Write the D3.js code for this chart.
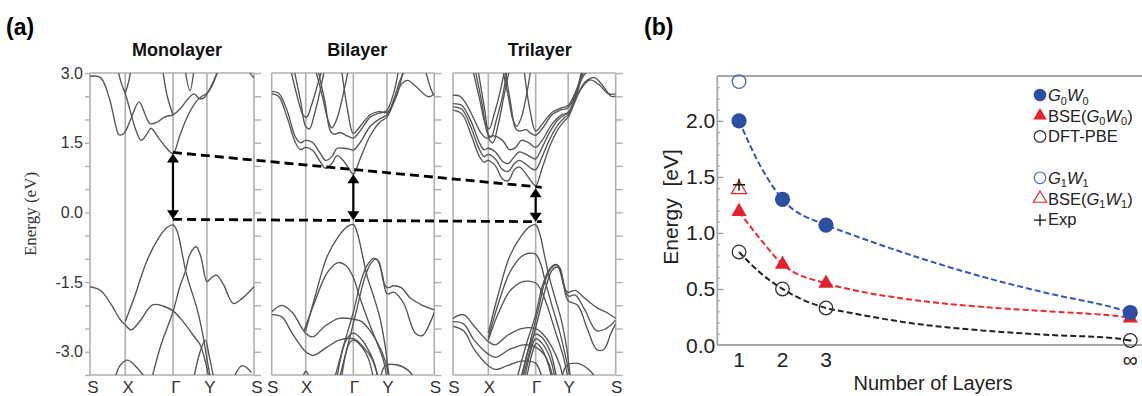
<!DOCTYPE html>
<html>
<head>
<meta charset="utf-8">
<script src="https://cdn.jsdelivr.net/npm/d3@7"></script>
<style>
  body { margin: 0; background: #fff; }
  svg { display: block; font-family: Arial, "Liberation Sans", sans-serif; }
</style>
</head>
<body>
<svg id="fig" width="1142" height="396"></svg>
<script>
// ---------- panel (a): band structures, path coordinate S=0 X=1 Γ=2 Y=3 S=4, energy in eV ----------
const kLabels = ['S', 'X', 'Γ', 'Y', 'S'];
const energyTicks = [-3.0, -1.5, 0.0, 1.5, 3.0];

const monoBands = [
  [[0,2.93],[0.3,2.9],[0.55,2.45],[0.72,1.9],[0.82,1.67],[0.92,1.68],[1,1.74],[1.12,2.02],[1.29,2.38],[1.42,2.1],[1.52,1.91],[1.65,1.93],[1.82,2.05],[2,2.1],[2.2,2.22],[2.45,2.45],[2.62,2.55],[2.78,2.45],[2.92,2.47],[3,2.55],[3.15,2.85],[3.25,3.1]],
  [[0.78,3.1],[0.9,2.75],[1,2.56],[1.1,2.2],[1.22,1.78],[1.33,1.55],[1.45,1.68],[1.54,1.81],[1.7,1.6],[1.85,1.4],[2,1.27],[2.2,1.65],[2.45,2.1],[2.7,2.4],[2.85,2.5],[3,2.56],[3.12,2.75],[3.25,3.1]],
  [[1,2.56],[1.08,2.85],[1.12,3.1]],
  [[1.78,3.1],[1.88,2.5],[2,2.1]],
  [[2.35,3.1],[2.5,2.62],[2.62,3.1]],
  [[3.85,3.1],[3.95,2.95],[4,2.9]],
  [[0,-1.6],[0.3,-1.68],[0.6,-1.98],[0.85,-2.3],[1,-2.42],[1.12,-2.53],[1.3,-2.35],[1.57,-1.99],[1.8,-2.02],[2,-2.12],[2.3,-2.35],[2.6,-2.65],[2.8,-2.85],[2.95,-3.2],[3.05,-3.6]],
  [[1,-2.35],[1.2,-1.8],[1.45,-1.05],[1.7,-0.55],[1.88,-0.32],[2,-0.27],[2.12,-0.4],[2.28,-0.92],[2.38,-1.28],[2.55,-1.7],[2.7,-2.05],[2.87,-2.6],[3,-3.15],[3.08,-3.6]],
  [[1.55,-3.6],[1.75,-2.85],[2,-2.14],[2.2,-1.6],[2.36,-1.28],[2.5,-0.9],[2.68,-0.74],[2.82,-0.95],[3,-1.49],[3.08,-1.42],[3.2,-1.35],[3.35,-1.55],[3.56,-1.96],[3.75,-1.85],[4,-1.6]],
  [[0.7,-3.6],[0.85,-3.3],[1.05,-3.18],[1.25,-3.35],[1.45,-3.6]],
  [[2.6,-3.6],[2.8,-3.0],[2.95,-2.75],[3.05,-3.1],[3.15,-3.6]],
  [[3.55,-3.6],[3.75,-3.3],[3.95,-3.45]]
];

const biBands = [
  [[0,2.55],[0.2,2.5],[0.45,2.05],[0.7,1.5],[0.85,1.35],[1,1.4],[1.15,1.33],[1.3,1.1],[1.42,0.95],[1.55,1.05],[1.66,1.22],[1.8,1.1],[1.92,0.92],[2,0.82],[2.2,1.15],[2.5,1.65],[2.8,1.95],[3,2.05],[3.16,2.41],[3.3,2.75],[3.44,2.84],[3.6,2.72],[3.87,2.49],[4,2.55]],
  [[0,2.6],[0.2,2.57],[0.45,2.2],[0.7,1.62],[0.85,1.5],[1,1.55],[1.15,1.5],[1.3,1.28],[1.42,1.12],[1.55,1.2],[1.66,1.38],[1.8,1.38],[1.92,1.36],[2,1.34],[2.2,1.5],[2.5,1.85],[2.8,2.02],[3,2.1],[3.15,2.45],[3.28,2.85],[3.4,3.1]],
  [[0.55,3.1],[0.75,2.5],[0.92,2.1],[1.02,2.05],[1.12,2.3],[1.25,2.75],[1.35,3.1]],
  [[0.65,3.1],[0.85,2.4],[1.0,1.85],[1.08,1.8],[1.18,2.1],[1.3,2.6],[1.4,3.1]],
  [[1.2,3.1],[1.35,2.5],[1.48,1.95],[1.55,1.82],[1.65,2.0],[1.8,2.6],[1.9,3.1]],
  [[1.25,3.1],[1.4,2.4],[1.52,1.75],[1.6,1.68],[1.72,1.72],[1.85,1.66],[2,1.6],[2.2,1.75],[2.5,2.05],[2.7,2.12],[2.85,2.15],[3,2.2],[3.15,2.6],[3.25,3.1]],
  [[1.75,3.1],[1.88,2.2],[2,1.7],[2.2,1.85],[2.5,2.1],[2.75,2.17],[3,2.15],[3.2,2.5],[3.35,3.1]],
  [[3.8,3.1],[3.95,2.6],[4,2.52]],
  [[1,-2.55],[1.2,-1.8],[1.45,-0.95],[1.7,-0.5],[1.88,-0.3],[2,-0.26],[2.12,-0.45],[2.28,-0.95],[2.42,-1.4],[2.6,-1.8],[2.8,-2.3],[2.95,-2.9],[3.05,-3.6]],
  [[0.95,-2.55],[1.2,-1.9],[1.45,-1.3],[1.68,-1.08],[1.85,-1.15],[2,-1.4],[2.2,-1.85],[2.45,-2.35],[2.7,-2.8],[2.9,-3.2],[3.0,-3.6]],
  [[0,-2.14],[0.3,-2.0],[0.6,-2.15],[1,-2.6],[1.15,-2.68],[1.4,-2.45],[1.7,-2.28],[2,-2.3],[2.25,-2.35],[2.5,-2.55],[2.75,-2.85],[2.95,-3.2],[3.05,-3.6]],
  [[0,-2.2],[0.3,-2.25],[0.6,-2.6],[1,-3.0],[1.15,-3.08],[1.45,-2.9],[1.7,-2.75],[2,-2.72],[2.3,-2.9],[2.55,-3.15],[2.75,-3.6]],
  [[1.6,-3.6],[1.8,-2.85],[2,-2.15],[2.2,-1.55],[2.4,-1.15],[2.6,-0.99],[2.75,-1.05],[2.9,-1.5],[3,-1.62],[3.15,-1.58],[3.3,-1.62],[3.5,-1.85],[3.75,-2.0],[4,-2.1]],
  [[1.7,-3.6],[1.9,-2.8],[2.1,-2.1],[2.3,-1.5],[2.5,-1.12],[2.68,-1.0],[2.85,-1.3],[3,-1.75],[3.15,-1.72],[3.35,-1.95],[3.6,-2.6],[3.75,-2.65],[3.9,-2.4],[4,-2.15]],
  [[1.65,-3.6],[1.85,-2.75],[2,-2.6],[2.2,-2.7],[2.4,-2.9],[2.6,-3.2],[2.75,-3.6]],
  [[1.75,-3.6],[1.9,-2.85],[2,-2.75],[2.2,-2.85],[2.45,-3.15],[2.6,-3.6]],
  [[0.9,-3.6],[1.0,-3.42],[1.1,-3.6]],
  [[2.8,-3.6],[2.95,-3.3],[3.2,-3.28],[3.45,-3.4],[3.6,-3.6]]
];

const triBands = [
  [[0,2.2],[0.25,2.12],[0.5,1.7],[0.75,1.2],[0.88,1.08],[1,1.12],[1.15,1.0],[1.3,0.72],[1.42,0.68],[1.55,0.92],[1.65,0.98],[1.78,0.85],[1.92,0.65],[2,0.57],[2.2,0.95],[2.45,1.45],[2.7,1.8],[2.9,1.98],[3,2.05],[3.15,2.4],[3.35,2.8],[3.55,2.9],[3.75,2.7],[3.9,2.5],[4,2.5]],
  [[0,2.27],[0.25,2.22],[0.5,1.85],[0.75,1.35],[0.88,1.2],[1,1.25],[1.15,1.15],[1.3,0.92],[1.42,0.88],[1.55,1.05],[1.65,1.12],[1.78,1.05],[1.9,0.95],[2,0.92],[2.2,1.2],[2.45,1.6],[2.7,1.9],[2.9,2.05],[3,2.1],[3.15,2.5],[3.3,2.9],[3.45,3.1]],
  [[0,2.34],[0.25,2.3],[0.5,1.98],[0.75,1.5],[0.88,1.35],[1,1.38],[1.15,1.3],[1.3,1.1],[1.42,1.05],[1.55,1.2],[1.65,1.3],[1.8,1.25],[1.92,1.18],[2,1.15],[2.2,1.4],[2.45,1.75],[2.7,2.0],[2.9,2.1],[3,2.15],[3.2,2.6],[3.3,3.1]],
  [[0,2.52],[0.2,2.5],[0.4,2.3],[0.6,2.0],[0.8,1.7],[0.95,1.6],[1.1,1.65],[1.3,1.55],[1.45,1.35],[1.58,1.4],[1.7,1.55],[1.85,1.5],[2,1.4],[2.2,1.55],[2.5,1.9],[2.8,2.1],[3,2.15],[3.2,2.55],[3.45,2.85],[3.65,2.75],[3.85,2.55],[4,2.55]],
  [[0.55,3.1],[0.75,2.45],[0.92,1.9],[1.02,1.8],[1.12,2.1],[1.25,2.6],[1.35,3.1]],
  [[0.62,3.1],[0.82,2.35],[0.98,1.7],[1.06,1.62],[1.16,1.95],[1.3,2.5],[1.4,3.1]],
  [[0.7,3.1],[0.9,2.2],[1.03,1.55],[1.1,1.5],[1.2,1.85],[1.33,2.5],[1.45,3.1]],
  [[1.3,3.1],[1.42,2.5],[1.52,2.0],[1.6,1.85],[1.7,2.05],[1.82,2.6],[1.9,3.1]],
  [[1.35,3.1],[1.48,2.3],[1.57,1.82],[1.65,1.75],[1.8,1.78],[1.9,1.7],[2,1.66],[2.2,1.8],[2.5,2.1],[2.75,2.2],[3,2.25],[3.15,2.55],[3.3,3.1]],
  [[1.75,3.1],[1.88,2.2],[2,1.75],[2.2,1.9],[2.5,2.15],[2.8,2.25],[3,2.3],[3.2,2.7],[3.35,3.1]],
  [[1,-2.6],[1.2,-1.8],[1.45,-0.95],[1.7,-0.5],[1.88,-0.3],[2,-0.27],[2.12,-0.45],[2.28,-0.95],[2.42,-1.4],[2.6,-1.85],[2.8,-2.35],[2.95,-2.9],[3.05,-3.6]],
  [[1,-2.7],[1.2,-2.0],[1.45,-1.3],[1.7,-0.95],[1.85,-0.88],[2,-0.9],[2.15,-1.1],[2.3,-1.5],[2.5,-2.0],[2.75,-2.6],[2.95,-3.2],[3.05,-3.6]],
  [[1,-2.75],[1.2,-2.2],[1.45,-1.7],[1.7,-1.5],[1.85,-1.48],[2,-1.52],[2.15,-1.65],[2.35,-2.0],[2.6,-2.55],[2.85,-3.1],[3,-3.6]],
  [[0,-2.28],[0.3,-2.2],[0.6,-2.45],[1,-2.78],[1.15,-2.85],[1.4,-2.65],[1.7,-2.5],[2,-2.5],[2.2,-2.6],[2.5,-2.9],[2.75,-3.3],[2.85,-3.6]],
  [[0,-2.35],[0.3,-2.4],[0.6,-2.75],[1,-3.05],[1.15,-3.12],[1.45,-2.95],[1.75,-2.85],[2,-2.9],[2.3,-3.1],[2.55,-3.6]],
  [[0,-2.45],[0.3,-2.55],[0.6,-2.95],[1,-3.3],[1.15,-3.38],[1.4,-3.3],[1.7,-3.2],[2,-3.25],[2.2,-3.6]],
  [[1.6,-3.6],[1.8,-2.85],[2,-2.2],[2.2,-1.6],[2.4,-1.25],[2.6,-1.12],[2.75,-1.2],[2.9,-1.65],[3,-1.72],[3.15,-1.68],[3.35,-1.85],[3.6,-2.05],[3.8,-2.15],[4,-2.28]],
  [[1.68,-3.6],[1.88,-2.8],[2.08,-2.1],[2.28,-1.5],[2.48,-1.2],[2.66,-1.13],[2.82,-1.4],[3,-1.8],[3.15,-1.78],[3.35,-2.1],[3.6,-2.55],[3.8,-2.5],[4,-2.32]],
  [[1.72,-3.6],[1.92,-2.8],[2.12,-2.15],[2.32,-1.6],[2.5,-1.25],[2.68,-1.18],[2.85,-1.55],[3,-1.9],[3.2,-2.0],[3.4,-2.5],[3.6,-2.95],[3.75,-2.95],[3.9,-2.6],[4,-2.4]],
  [[1.7,-3.6],[1.88,-2.85],[2,-2.62],[2.2,-2.7],[2.45,-3.0],[2.65,-3.6]],
  [[1.76,-3.6],[1.92,-2.9],[2,-2.72],[2.2,-2.82],[2.45,-3.15],[2.6,-3.6]],
  [[1.8,-3.6],[1.95,-2.95],[2.02,-2.82],[2.2,-2.95],[2.4,-3.3],[2.5,-3.6]],
  [[2.8,-3.6],[2.95,-3.3],[3.2,-3.25],[3.45,-3.4],[3.6,-3.6]]
];

// gap at Γ: conduction band bottom / valence edge used by arrows (eV)
const gapTop = [1.29, 0.84, 0.54];
const gapBottom = [-0.15, -0.17, -0.2];

// ---------- panel (b): band gap vs number of layers ----------
const layerPos = [1, 2, 3, 10];
const layerLabels = ['1', '2', '3', '∞'];
const g0w0 = [2.00, 1.30, 1.07, 0.29];
const bseG0W0 = [1.19, 0.72, 0.55, 0.24];
const dftPbe = [0.83, 0.50, 0.33, 0.04];
const g1w1 = [2.35];      // monolayer only
const bseG1W1 = [1.39];
const expGap = [1.43];
const fitLayers = [1, 1.5, 2, 3, 3.52, 5.05, 6.59, 8.12, 9.65, 10];
const fitG0W0 = [2.0, 1.59, 1.30, 1.07, 0.995, 0.79, 0.61, 0.46, 0.33, 0.29];
const fitBSE = [1.19, 0.94, 0.72, 0.55, 0.50, 0.40, 0.34, 0.30, 0.26, 0.245];
const fitDFT = [0.83, 0.64, 0.50, 0.33, 0.29, 0.19, 0.13, 0.09, 0.06, 0.04];

const blue = '#2d4fa3', red = '#e6202a', dark = '#222';
const svg = d3.select('#fig');

// ===== panel (a) =====
const eScale = d3.scaleLinear().domain([-3.5, 3]).range([375, 73]);
const panels = [
  {title: 'Monolayer', left: 90, right: 254, kPos: [0, 0.215, 0.506, 0.713, 1], bands: monoBands},
  {title: 'Bilayer', left: 271.7, right: 434.3, kPos: [0, 0.209, 0.502, 0.709, 1], bands: biBands},
  {title: 'Trilayer', left: 453, right: 615.7, kPos: [0, 0.217, 0.508, 0.708, 1], bands: triBands}
];
const frameColor = '#b0b0b0';

panels.forEach((p, i) => {
  p.x = d3.scaleLinear().domain([0, 1, 2, 3, 4])
    .range(p.kPos.map(f => p.left + f * (p.right - p.left)));
  const g = svg.append('g');

  svg.append('defs').append('clipPath').attr('id', 'clipA' + i)
    .append('rect').attr('x', p.left).attr('y', eScale(3))
    .attr('width', p.right - p.left).attr('height', eScale(-3.5) - eScale(3));

  // right-side ticks (every 0.5 eV)
  const ticksR = g.append('g').attr('transform', 'translate(' + p.right + ',0)')
    .call(d3.axisRight(eScale).tickValues(d3.range(-3.5, 3.01, 0.5)).tickSize(7).tickFormat(''));
  ticksR.select('.domain').remove();
  ticksR.selectAll('line').attr('stroke', frameColor).attr('stroke-width', 1.4);

  if (i === 0) {
    const ticksL = g.append('g').attr('transform', 'translate(' + p.left + ',0)')
      .call(d3.axisLeft(eScale).tickValues(d3.range(-3.5, 3.01, 0.5)).tickSize(5).tickFormat(''));
    ticksL.select('.domain').remove();
    ticksL.selectAll('line').attr('stroke', frameColor).attr('stroke-width', 1.4);
    g.selectAll('.elabel').data(energyTicks).enter().append('text')
      .attr('x', p.left - 7).attr('y', d => eScale(d) + 5.5)
      .attr('text-anchor', 'end').attr('font-size', 16).attr('fill', '#333')
      .text(d => d.toFixed(1));
  }

  // frame + high symmetry lines
  g.selectAll('.kline').data([0, 1, 2, 3, 4]).enter().append('line')
    .attr('x1', d => p.x(d)).attr('x2', d => p.x(d))
    .attr('y1', eScale(3)).attr('y2', eScale(-3.5))
    .attr('stroke', frameColor).attr('stroke-width', 1.6);
  [3, -3.5].forEach(e => {
    g.append('line').attr('x1', p.left).attr('x2', p.right)
      .attr('y1', eScale(e)).attr('y2', eScale(e))
      .attr('stroke', frameColor).attr('stroke-width', 1.6);
  });

  // bands
  const line = d3.line().x(d => p.x(d[0])).y(d => eScale(d[1]))
    .curve(d3.curveCatmullRom.alpha(0.5));
  g.append('g').attr('clip-path', 'url(#clipA' + i + ')')
    .selectAll('path').data(p.bands).enter().append('path')
    .attr('d', line).attr('fill', 'none')
    .attr('stroke', '#555').attr('stroke-width', 1.35);

  // k labels
  g.selectAll('.klabel').data(kLabels).enter().append('text')
    .attr('x', (d, j) => p.x(j) + (i === 0 ? 3 : 1)).attr('y', 393)
    .attr('text-anchor', 'middle').attr('font-size', 17).attr('fill', '#333')
    .text(d => d);

  // title
  g.append('text').attr('x', p.x(2) + 4).attr('y', 56)
    .attr('text-anchor', 'middle').attr('font-size', 18).attr('font-weight', 'bold')
    .attr('fill', '#111').text(p.title);
});

// dashed band-edge guides from monolayer Γ to trilayer Γ
const xStart = panels[0].x(2), xEnd = panels[2].x(2) + 6;
[[gapTop[0], gapTop[2]], [gapBottom[0], gapBottom[2]]].forEach(pair => {
  svg.append('line').attr('x1', xStart).attr('x2', xEnd)
    .attr('y1', eScale(pair[0])).attr('y2', eScale(pair[1]))
    .attr('stroke', '#000').attr('stroke-width', 2.8).attr('stroke-dasharray', '9,5');
});

// double arrows at Γ
panels.forEach((p, i) => {
  const x = p.x(2), yT = eScale(gapTop[i]) + 1, yB = eScale(gapBottom[i]);
  const h = 9, w = 6;
  svg.append('line').attr('x1', x).attr('x2', x).attr('y1', yT + h - 1).attr('y2', yB - h + 1)
    .attr('stroke', '#000').attr('stroke-width', 2.2);
  svg.append('path').attr('d', `M${x},${yT}L${x - w},${yT + h}L${x + w},${yT + h}Z`).attr('fill', '#000');
  svg.append('path').attr('d', `M${x},${yB}L${x - w},${yB - h}L${x + w},${yB - h}Z`).attr('fill', '#000');
});

svg.append('text').attr('transform', 'translate(36,214) rotate(-90)')
  .attr('text-anchor', 'middle').attr('font-family', '"Liberation Serif", "Times New Roman", serif')
  .attr('font-size', 17).attr('fill', '#333').text('Energy (eV)');

svg.append('text').attr('x', 6).attr('y', 35).attr('font-size', 23).attr('font-weight', 'bold')
  .attr('fill', '#000').text('(a)');
svg.append('text').attr('x', 644).attr('y', 35).attr('font-size', 23).attr('font-weight', 'bold')
  .attr('fill', '#000').text('(b)');

// ===== panel (b) =====
const xB = d3.scaleLinear().domain([0.5, 10.27]).range([717.3, 1142]);
const yB = d3.scaleLinear().domain([0, 2.4]).range([345, 76]);
const axisColor = '#a8a8a8';
const gb = svg.append('g');

const yMinor = gb.append('g').attr('transform', 'translate(' + xB(0.5) + ',0)')
  .call(d3.axisRight(yB).tickValues(d3.range(0, 2.41, 0.1)).tickSize(3).tickFormat(''));
yMinor.select('.domain').remove();
yMinor.selectAll('line').attr('stroke', '#888').attr('stroke-width', 0.8);
const yMajor = gb.append('g').attr('transform', 'translate(' + xB(0.5) + ',0)')
  .call(d3.axisRight(yB).tickValues([0, 0.5, 1, 1.5, 2]).tickSize(6).tickFormat(''));
yMajor.select('.domain').remove();
yMajor.selectAll('line').attr('stroke', '#888').attr('stroke-width', 1);

gb.append('line').attr('x1', xB(0.5)).attr('x2', xB(0.5)).attr('y1', yB(2.4)).attr('y2', yB(0))
  .attr('stroke', axisColor).attr('stroke-width', 1.8);
[0, 2.4].forEach(v => {
  gb.append('line').attr('x1', xB(0.5)).attr('x2', 1142).attr('y1', yB(v)).attr('y2', yB(v))
    .attr('stroke', axisColor).attr('stroke-width', 1.8);
});

gb.selectAll('.ylab').data([0, 0.5, 1, 1.5, 2]).enter().append('text')
  .attr('x', xB(0.5) - 2).attr('y', d => yB(d) + 7.5)
  .attr('text-anchor', 'end').attr('font-size', 21).attr('fill', dark)
  .text(d => d.toFixed(1));
gb.selectAll('.xlab').data(layerPos).enter().append('text')
  .attr('x', d => xB(d)).attr('y', 367)
  .attr('text-anchor', 'middle').attr('font-size', 21).attr('fill', dark)
  .text((d, i) => layerLabels[i]);

gb.append('text').attr('x', 933).attr('y', 390).attr('text-anchor', 'middle')
  .attr('font-size', 20).attr('fill', dark).text('Number of Layers');
gb.append('text').attr('transform', 'translate(678,207) rotate(-90)')
  .attr('text-anchor', 'middle').attr('font-size', 21).attr('fill', dark)
  .style('white-space', 'pre').text('Energy  [eV]');

// fitted dashed curves
const fitLine = d3.line().x(d => xB(d[0])).y(d => yB(d[1])).curve(d3.curveMonotoneX);
[[fitG0W0, '#3557b5'], [fitBSE, '#ee2a2f'], [fitDFT, '#222']].forEach(([vals, col]) => {
  gb.append('path').attr('d', fitLine(fitLayers.map((n, i) => [n, vals[i]])))
    .attr('fill', 'none').attr('stroke', col).attr('stroke-width', 2)
    .attr('stroke-dasharray', '6,3');
});

const tri = d3.symbol().type(d3.symbolTriangle).size(100);
// DFT-PBE open circles
gb.selectAll('.dft').data(dftPbe).enter().append('circle')
  .attr('cx', (d, i) => xB(layerPos[i])).attr('cy', d => yB(d)).attr('r', 6.8)
  .attr('fill', 'none').attr('stroke', '#333').attr('stroke-width', 1.3);
gb.append('circle').attr('cx', xB(layerPos[3])).attr('cy', yB(dftPbe[3])).attr('r', 1.2).attr('fill', '#333');
// BSE(G0W0)
gb.selectAll('.bse').data(bseG0W0).enter().append('path')
  .attr('transform', (d, i) => 'translate(' + xB(layerPos[i]) + ',' + yB(d) + ')')
  .attr('d', tri).attr('fill', red);
// G0W0
gb.selectAll('.gw').data(g0w0).enter().append('circle')
  .attr('cx', (d, i) => xB(layerPos[i])).attr('cy', d => yB(d)).attr('r', 7.6)
  .attr('fill', blue);
// G1W1, BSE(G1W1), Exp at monolayer
gb.selectAll('.g1').data(g1w1).enter().append('circle')
  .attr('cx', (d, i) => xB(layerPos[i])).attr('cy', d => yB(d)).attr('r', 6.8)
  .attr('fill', 'none').attr('stroke', '#4a66b8').attr('stroke-width', 1.3);
gb.selectAll('.bse1').data(bseG1W1).enter().append('path')
  .attr('transform', (d, i) => 'translate(' + xB(layerPos[i]) + ',' + yB(d) + ')')
  .attr('d', tri).attr('fill', 'none').attr('stroke', red).attr('stroke-width', 1.2);
gb.selectAll('.expt').data(expGap).enter().append('path')
  .attr('transform', (d, i) => 'translate(' + xB(layerPos[i]) + ',' + yB(d) + ')')
  .attr('d', 'M-6,0H6M0,-6V6').attr('stroke', '#111').attr('stroke-width', 1.4);

// legend
const legendItems = [
  {mark: 'disc', parts: [['G', 'i'], ['0', 's'], ['W', 'i'], ['0', 's']]},
  {mark: 'tri', parts: [['BSE('], ['G', 'i'], ['0', 's'], ['W', 'i'], ['0', 's'], [')']]},
  {mark: 'ring', parts: [['DFT-PBE']]},
  null,
  {mark: 'ringBlue', parts: [['G', 'i'], ['1', 's'], ['W', 'i'], ['1', 's']]},
  {mark: 'triOpen', parts: [['BSE('], ['G', 'i'], ['1', 's'], ['W', 'i'], ['1', 's'], [')']]},
  {mark: 'plus', parts: [['Exp']]}
];
const legX = 1040, legY0 = 95, legDy = 20.7;
legendItems.forEach((it, i) => {
  if (!it) return;
  const cy = legY0 + i * legDy;
  const lg = gb.append('g');
  if (it.mark === 'disc') lg.append('circle').attr('cx', legX).attr('cy', cy).attr('r', 6.3).attr('fill', blue);
  if (it.mark === 'ring') lg.append('circle').attr('cx', legX).attr('cy', cy).attr('r', 5.8).attr('fill', 'none').attr('stroke', '#333').attr('stroke-width', 1.2);
  if (it.mark === 'ringBlue') lg.append('circle').attr('cx', legX).attr('cy', cy).attr('r', 5.8).attr('fill', 'none').attr('stroke', '#4a66b8').attr('stroke-width', 1.2);
  if (it.mark === 'tri') lg.append('path').attr('transform', `translate(${legX},${cy})`).attr('d', d3.symbol().type(d3.symbolTriangle).size(75)).attr('fill', red);
  if (it.mark === 'triOpen') lg.append('path').attr('transform', `translate(${legX},${cy})`).attr('d', d3.symbol().type(d3.symbolTriangle).size(75)).attr('fill', 'none').attr('stroke', red).attr('stroke-width', 1.1);
  if (it.mark === 'plus') lg.append('path').attr('transform', `translate(${legX},${cy + 1})`).attr('d', 'M-6,0H6M0,-6V6').attr('stroke', '#111').attr('stroke-width', 1.3);
  const t = lg.append('text').attr('x', legX + 8).attr('y', cy + 6).attr('font-size', 16.5).attr('fill', dark);
  let sub = false;
  it.parts.forEach(([s, f]) => {
    const ts = t.append('tspan').text(s);
    if (f === 'i') ts.attr('font-style', 'italic');
    if (f === 's') { ts.attr('font-size', 11).attr('dy', 3.5); sub = true; }
    else if (sub) { ts.attr('dy', -3.5); sub = false; }
  });
});
</script>
</body>
</html>
